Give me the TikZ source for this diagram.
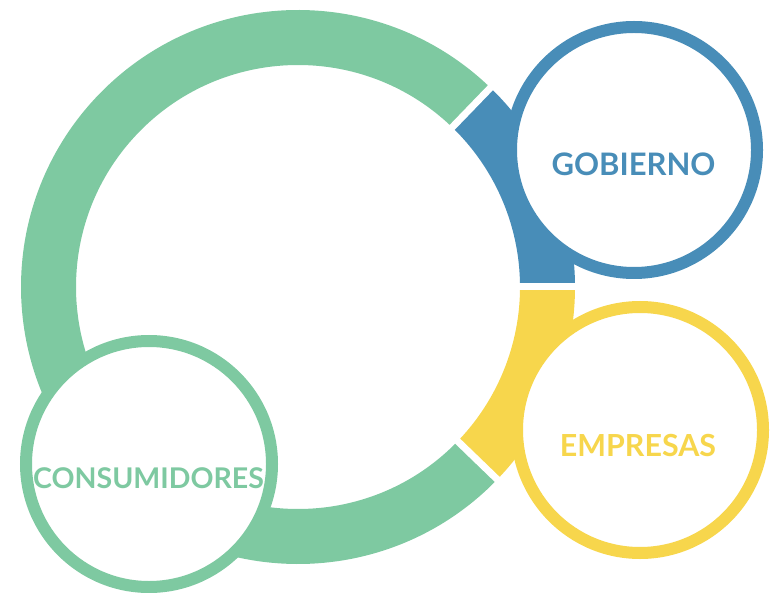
\documentclass[tikz,border=0pt]{standalone}
\usepackage{fontspec}
\setmainfont{Lato}
\definecolor{ringgreen}{RGB}{126,201,161}
\definecolor{ringblue}{RGB}{72,141,184}
\definecolor{ringyellow}{RGB}{247,214,76}
\begin{document}
\begin{tikzpicture}[x=1pt,y=-1pt,
  seg/.style={line width=55pt},
  gapline/.style={white,line width=7pt},
  actor/.style={circle,draw,fill=white,line width=12pt,minimum size=246pt,inner sep=0pt},
  label/.style={inner sep=0pt,font=\bfseries}]
\useasboundingbox (0,0) rectangle (773,593);
\coordinate (C) at (298,287);
% ring segments
\draw[seg,ringgreen] (C) ++(-46:249.5) arc[start angle=-46,end angle=-316,radius=249.5];
\draw[seg,ringblue] (C) ++(-46:249.5) arc[start angle=-46,end angle=0,radius=249.5];
\draw[seg,ringyellow] (C) ++(0:249.5) arc[start angle=0,end angle=44,radius=249.5];
% gaps
\path (C) ++(-46:290) coordinate (g1) (C) ++(0:290) coordinate (g2) (C) ++(44:290) coordinate (g3);
\draw[gapline] (C) -- (g1);
\draw[gapline] (C) -- (g2);
\draw[gapline] (C) -- (g3);
% actor circles
\node[actor,draw=ringblue] (gob) at (634,150) {};
\node[actor,draw=ringyellow] (emp) at (640,430) {};
\node[actor,draw=ringgreen] (con) at (149,464) {};
\node[label,text=ringblue] (gobt) at (633.5,164.5) {\fontsize{31}{31}\selectfont GOBIERNO};
\node[label,text=ringyellow] (empt) at (638,445.5) {\fontsize{30.4}{30}\selectfont EMPRESAS};
\node[label,text=ringgreen] (cont) at (148.5,478.5) {\fontsize{28.5}{28}\selectfont CONSUMIDORES};
\end{tikzpicture}
\end{document}
